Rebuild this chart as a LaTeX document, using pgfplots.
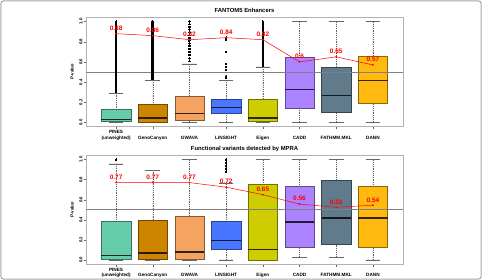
\documentclass[border=0pt]{standalone}
\usepackage{pgfplots}
\pgfplotsset{compat=1.18}
\usepgfplotslibrary{statistics}
\usepackage{fontspec}
\setmainfont{Liberation Sans}

\definecolor{c1}{HTML}{66CDAA}
\definecolor{c2}{HTML}{CD8500}
\definecolor{c3}{HTML}{F4A460}
\definecolor{c4}{HTML}{4876FF}
\definecolor{c5}{HTML}{CDCD00}
\definecolor{c6}{HTML}{AB82FF}
\definecolor{c7}{HTML}{607B8B}
\definecolor{c8}{HTML}{FFB90F}

\pgfplotsset{
  /pgfplots/boxplot/draw/lower whisker/.code={%
    \draw[black!60, line width=0.4bp, dash pattern=on 1.2bp off 1bp]
      (boxplot box cs:\pgfplotsboxplotvalue{lower whisker},0.5)
      -- (boxplot box cs:\pgfplotsboxplotvalue{lower quartile},0.5);
    \draw[black!60, line width=0.5bp, solid]
      (boxplot whisker cs:\pgfplotsboxplotvalue{lower whisker},0)
      -- (boxplot whisker cs:\pgfplotsboxplotvalue{lower whisker},1);
  },
  /pgfplots/boxplot/draw/upper whisker/.code={%
    \draw[black!60, line width=0.4bp, dash pattern=on 1.2bp off 1bp]
      (boxplot box cs:\pgfplotsboxplotvalue{upper whisker},0.5)
      -- (boxplot box cs:\pgfplotsboxplotvalue{upper quartile},0.5);
    \draw[black!60, line width=0.5bp, solid]
      (boxplot whisker cs:\pgfplotsboxplotvalue{upper whisker},0)
      -- (boxplot whisker cs:\pgfplotsboxplotvalue{upper whisker},1);
  },
  bx/.style={draw=#1!55!black, fill=#1, line width=0.45bp, solid,
    mark=*, mark size=0.8bp, mark options={draw=black, fill=black, line width=0pt, solid},
    boxplot/draw direction=y,
    boxplot/box extend=0.8, boxplot/whisker extend=0.4,
    boxplot/every median/.style={draw=#1!20!black, line width=1.3bp}},
  aur/.style={red, line width=0.5bp, mark=*, mark size=0.6bp, mark options={fill=red, solid},
    nodes near coords, point meta=explicit symbolic,
    every node near coord/.append style={font=\fontsize{6.5}{7}\selectfont\bfseries, text=red, anchor=base, inner sep=0pt, yshift=3.2bp}},
  panel/.style={
    scale only axis, width=317bp, height=109bp, anchor=south west,
    xmin=0.18, xmax=8.82, ymin=-0.04, ymax=1.04,
    xtick={1,2,3,4,5,6,7,8},
    xticklabels={{\strut PINES\\\strut(unweighted)},{\strut\\\strut GenoCanyon},{\strut\\\strut GWAVA},{\strut\\\strut LINSIGHT},{\strut\\\strut Eigen},{\strut\\\strut CADD},{\strut\\\strut FATHMM.MKL},{\strut\\\strut DANN}},
    ytick={0,0.2,0.4,0.6,0.8,1}, yticklabels={0.0,0.2,0.4,0.6,0.8,1.0},
    tick pos=left, tick align=outside, major tick length=2.5bp,
    axis line style={gray!60, line width=0.5bp},
    every tick/.style={black!60, line width=0.4bp},
    yticklabel style={font=\fontsize{4.3}{5}\selectfont\bfseries, rotate=90, anchor=south, inner sep=1bp},
    xticklabel style={font=\fontsize{4.7}{5.5}\selectfont\bfseries, align=center, anchor=north, inner sep=0.5bp},
    every axis title/.style={font=\fontsize{5.9}{7}\selectfont\bfseries, at={(0.5,1)}, anchor=base, yshift=5.3bp},
    ylabel={P-value},
    ylabel style={font=\fontsize{4.5}{5}\selectfont\bfseries, at={(axis description cs:-0.044,0.5)}, anchor=center},
  },
}

\begin{document}
\begin{tikzpicture}
\useasboundingbox (0,0) rectangle (482bp,280bp);
\draw[gray!70, line width=1bp, rounded corners=3bp] (0.8bp,0.8bp) rectangle (481.2bp,279.2bp);

% ---------------- top panel ----------------
\begin{axis}[panel, at={(86bp,153.5bp)}, title={FANTOM5 Enhancers}]
\addplot[bx=c1, boxplot prepared={draw position=1, lower whisker=0, lower quartile=0.008, median=0.03, upper quartile=0.135, upper whisker=0.29}]
 table[row sep=\\, y index=0]{0.30\\0.31\\0.32\\0.33\\0.34\\0.35\\0.36\\0.37\\0.38\\0.39\\0.40\\0.41\\0.42\\0.43\\0.44\\0.45\\0.46\\0.47\\0.48\\0.49\\0.50\\0.51\\0.52\\0.53\\0.54\\0.55\\0.56\\0.57\\0.58\\0.59\\0.60\\0.61\\0.62\\0.63\\0.64\\0.65\\0.66\\0.67\\0.68\\0.69\\0.70\\0.71\\0.72\\0.73\\0.74\\0.75\\0.76\\0.77\\0.78\\0.79\\0.80\\0.81\\0.82\\0.83\\0.84\\0.85\\0.86\\0.87\\0.88\\0.89\\0.90\\0.91\\0.92\\0.93\\0.94\\0.95\\0.96\\0.97\\0.99\\1.00\\};
\addplot[bx=c2, boxplot prepared={draw position=2, lower whisker=0, lower quartile=0.005, median=0.043, upper quartile=0.177, upper whisker=0.42}]
 table[row sep=\\, y index=0]{0.43\\0.44\\0.45\\0.46\\0.47\\0.48\\0.49\\0.50\\0.51\\0.52\\0.53\\0.54\\0.55\\0.56\\0.57\\0.58\\0.59\\0.60\\0.61\\0.62\\0.63\\0.64\\0.65\\0.66\\0.67\\0.68\\0.69\\0.70\\0.71\\0.72\\0.73\\0.74\\0.75\\0.76\\0.77\\0.78\\0.79\\0.80\\0.81\\0.82\\0.83\\0.84\\0.85\\0.86\\0.87\\0.88\\0.89\\0.90\\0.91\\0.92\\0.93\\0.94\\0.95\\0.96\\0.97\\0.98\\0.99\\1.00\\};
\addplot[bx=c3, boxplot prepared={draw position=3, lower whisker=0, lower quartile=0.027, median=0.087, upper quartile=0.26, upper whisker=0.58}]
 table[row sep=\\, y index=0]{0.607\\0.636\\0.669\\0.699\\0.729\\0.758\\0.785\\0.81\\0.838\\0.865\\0.894\\0.92\\0.947\\0.974\\1.0\\};
\addplot[bx=c4, boxplot prepared={draw position=4, lower whisker=0, lower quartile=0.09, median=0.15, upper quartile=0.23, upper whisker=0.42}]
 table[row sep=\\, y index=0]{0.44\\0.45\\0.46\\0.52\\0.55\\0.58\\0.70\\0.82\\0.83\\0.84\\};
\addplot[bx=c5, boxplot prepared={draw position=5, lower whisker=0, lower quartile=0.012, median=0.045, upper quartile=0.23, upper whisker=0.55}]
 table[row sep=\\, y index=0]{0.56\\0.57\\0.58\\0.59\\0.60\\0.61\\0.62\\0.63\\0.64\\0.65\\0.66\\0.67\\0.68\\0.69\\0.70\\0.71\\0.72\\0.73\\0.74\\0.75\\0.76\\0.77\\0.78\\0.79\\0.80\\0.81\\0.82\\0.83\\0.84\\0.85\\0.86\\0.87\\0.88\\0.89\\0.90\\0.91\\0.92\\0.93\\0.94\\0.95\\0.96\\0.97\\0.98\\0.99\\1.00\\};
\addplot[bx=c6, boxplot prepared={draw position=6, lower whisker=0, lower quartile=0.14, median=0.33, upper quartile=0.645, upper whisker=1.0}] coordinates {};
\addplot[bx=c7, boxplot prepared={draw position=7, lower whisker=0, lower quartile=0.105, median=0.265, upper quartile=0.547, upper whisker=1.0}] coordinates {};
\addplot[bx=c8, boxplot prepared={draw position=8, lower whisker=0, lower quartile=0.19, median=0.413, upper quartile=0.652, upper whisker=1.0}] coordinates {};
\addplot[gray, line width=0.7bp] coordinates {(0.18,0.5) (8.82,0.5)};
\addplot[aur] table[row sep=\\, meta=lab]{x y lab\\1 0.88 0.88\\2 0.86 0.86\\3 0.82 0.82\\4 0.84 0.84\\5 0.82 0.82\\6 0.60 0.6\\7 0.65 0.65\\8 0.57 0.57\\};
\node[rotate=90, font=\fontsize{4.7}{5}\selectfont\bfseries] at (axis description cs:1.012,0.5) {AUROC};
\end{axis}

% ---------------- bottom panel ----------------
\begin{axis}[panel, at={(86bp,16bp)}, height=108.5bp, title={Functional variants detected by MPRA}]
\addplot[bx=c1, boxplot prepared={draw position=1, lower whisker=0, lower quartile=0.003, median=0.047, upper quartile=0.388, upper whisker=0.957}]
 table[row sep=\\, y index=0]{1.0\\};
\addplot[bx=c2, boxplot prepared={draw position=2, lower whisker=0, lower quartile=0.005, median=0.07, upper quartile=0.395, upper whisker=0.893}] coordinates {};
\addplot[bx=c3, boxplot prepared={draw position=3, lower whisker=0, lower quartile=0.003, median=0.08, upper quartile=0.435, upper whisker=1.0}] coordinates {};
\addplot[bx=c4, boxplot prepared={draw position=4, lower whisker=0, lower quartile=0.104, median=0.197, upper quartile=0.385, upper whisker=0.76}]
 table[row sep=\\, y index=0]{0.88\\0.91\\0.94\\0.97\\1.0\\};
\addplot[bx=c5, boxplot prepared={draw position=5, lower whisker=0, lower quartile=0.002, median=0.104, upper quartile=0.756, upper whisker=1.0}] coordinates {};
\addplot[bx=c6, boxplot prepared={draw position=6, lower whisker=0.024, lower quartile=0.124, median=0.378, upper quartile=0.73, upper whisker=1.0}] coordinates {};
\addplot[bx=c7, boxplot prepared={draw position=7, lower whisker=0.024, lower quartile=0.16, median=0.418, upper quartile=0.792, upper whisker=1.0}] coordinates {};
\addplot[bx=c8, boxplot prepared={draw position=8, lower whisker=0, lower quartile=0.13, median=0.418, upper quartile=0.732, upper whisker=1.0}] coordinates {};
\addplot[gray, line width=0.7bp] coordinates {(0.18,0.5) (8.82,0.5)};
\addplot[aur] table[row sep=\\, meta=lab]{x y lab\\1 0.772 0.77\\2 0.772 0.77\\3 0.77 0.77\\4 0.725 0.72\\5 0.65 0.65\\6 0.556 0.56\\7 0.525 0.53\\8 0.545 0.54\\};
\node[rotate=90, font=\fontsize{4.7}{5}\selectfont\bfseries] at (axis description cs:1.012,0.5) {AUROC};
\end{axis}
\end{tikzpicture}
\end{document}
